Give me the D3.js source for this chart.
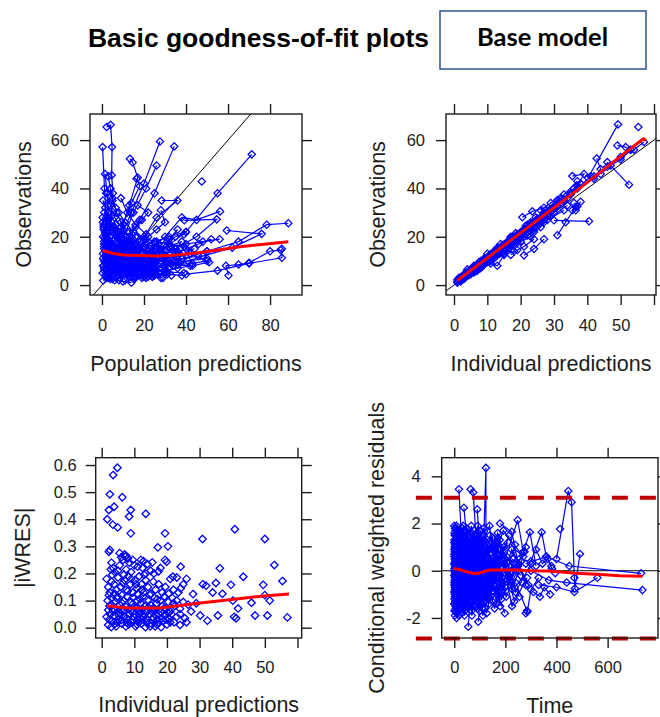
<!DOCTYPE html>
<html><head><meta charset="utf-8">
<script src="https://cdn.jsdelivr.net/npm/d3@7"></script>
<style>body{margin:0;background:#fff}svg{display:block}</style>
</head><body>
<svg id="c" width="660" height="717"></svg>
<script>
// ---------------- DATA ----------------
const titleText = "Basic goodness-of-fit plots";
const badgeText = "Base model";

// Panel 1: Population predictions (x) vs Observations (y), one flat [x,y,...] array per subject
const p1Subjects = [
  [2.2,65.4, 4.1,66.3, 4.8,57.1, 4.6,45.5, 5.2,38, 4,25, 3,14],
  [0.3,57.1, 1.2,40, 2,28, 1,16, 0.5,8],
  [27.6,59.4, 20,42, 14,30, 9,20, 5,12],
  [34.4,57.4, 25,38, 18,27, 12,18, 7,9],
  [13.3,52.3, 14.6,50.7, 17,44.5, 13,33, 9,22, 6,13],
  [26,49.5, 21,40, 15,30, 10,19],
  [71.3,54.1, 55,38, 40,22, 28,14, 18,9],
  [47.5,42.9],
  [1.4,46, 2.5,38, 3,30, 2,22, 1.5,14, 1,7],
  [16.5,44, 18,41, 14,34, 10,25, 7,15],
  [28.4,35, 35.9,35, 26,28, 20,20, 14,14],
  [56.2,30.5, 45,27, 38,28, 30,20, 22,14],
  [39.2,26.8, 54.6,27.2, 45,20, 35,15, 25,10],
  [88.7,25.6, 78.4,25, 65,18, 50,14, 35,10, 25,7],
  [59.4,22.6, 76,21.2, 62,15.5, 48,12, 34,8],
  [85.6,15, 85.6,11.3, 70,9, 55,6, 40,4.5],
  [60.2,4, 59,8, 65,8.5, 70,9.2, 80,14, 85,14.5],
  [0.6,1.9, 3,4, 6,6, 9,8],
  [0.5,13, 2,11, 4,9, 7,8, 11,7, 16,6],
  [1,18, 2.5,15, 5,12, 8,10, 12,9, 18,8, 25,7],
  [0.8,8, 2,7, 4,6, 6,5, 9,4, 13,3.5],
  [1.5,22, 3,19, 6,16, 9,14, 13,12, 18,11],
  [2,26, 3.5,22, 6,19, 10,17, 15,15, 22,13],
  [0.3,5, 1.5,4, 3,3, 5,2.5, 8,2],
  [3,14, 5,12, 8,11, 12,10, 17,9, 24,8, 32,7],
  [1,30, 2.5,27, 4,24, 7,20, 11,17, 16,14],
  [4,20, 6,17, 9,15, 13,13, 19,11, 26,10],
  [0.5,35, 1.5,32, 3,28, 5,24, 8,21, 12,18],
  [2,16, 4,13, 7,11.5, 11,10, 16,8.5, 22,7.5, 30,6],
  [5,10, 8,9, 11,8, 15,7, 20,6, 27,5],
  [1,10, 3,8.5, 6,7.5, 10,6.5, 15,5, 21,4],
  [6,24, 9,21, 13,18, 18,15, 24,13, 31,11],
  [2,38, 4,33, 6,28, 9,24, 13,20],
  [8,30, 11,26, 15,22, 20,19, 26,16, 34,14],
  [3,12, 6,14, 9,16, 12,18, 16,20],
  [10,12, 14,14, 19,16, 25,18, 32,20, 40,22],
  [12,7, 17,8, 23,9, 30,10, 38,11, 46,12],
  [15,5, 20,6, 26,7.5, 33,9, 41,10, 50,11],
  [7,4, 11,5, 16,6, 22,7, 29,8, 37,9],
  [20,10, 24,12, 28,15, 32,19, 36,23],
  [18,18, 22,20, 26,23, 30,26, 28,31],
  [22,14, 27,15, 33,16, 40,17, 48,18, 56,19],
  [25,5, 30,6, 36,7, 43,8, 51,9.5],
  [30,12, 35,13, 40,15, 46,17, 52,19],
  [4,40, 5,35, 7,30, 9,26, 12,22],
  [9,36, 12,30, 16,25, 21,21],
  [13,22, 16,24, 19,27, 22,30, 17,33],
  [0.5,20, 1,17, 2,14, 3,11, 4,8],
  [5,6, 7,5.5, 10,5, 13,4.5, 17,4, 22,3.5, 28,3],
  [14,10, 18,11, 23,12, 29,13, 36,14, 44,15],
  [2,3, 4,2.5, 6,2, 10,1.5, 14,1],
  [8,16, 12,15, 17,14, 23,13, 30,12.5, 38,12],
  [16,3, 20,3.5, 25,4, 31,4.5],
  [3,45, 4,40, 5,36, 6.5,32],
  [11,2, 15,2.5, 19,3, 24,3.5, 29,3],
  [6,11, 9,12, 12,13, 16,12, 21,11],
  [1,6, 2.5,5.5, 4,5, 6,4.5, 8,4],
  [17,20, 21,19, 26,18, 32,17, 39,16],
  [0.4,26, 0.8,23, 1.2,19.5, 1.8,15.5, 2.4,12.5],
  [3.5,9, 5.5,8, 8.5,7, 12.5,6, 18,5, 24,4.5, 33,4],
  [7,18, 10,14.5, 14,12, 19,10, 25,9, 33,8.5, 42,8],
  [2.8,33, 4.5,28.5, 6.5,25, 8,22],
  [19,8, 24,9.5, 29,11, 35,11.5, 42,13, 50,14],
  [9,9, 13,8.5, 18,7.5, 24,6.5, 31,5.5, 39,5],
  [0.5,11, 1.5,9.5, 3,8, 5,7, 8,6, 12,5.5, 17,5],
  [1,15, 2,13, 4,11, 6,10, 9,9.5, 13,9, 18,8.5, 24,8],
  [2,9, 3.5,7.5, 5.5,6.5, 8,6, 11,5.5, 15,5, 20,4.5],
  [3,17, 5,15, 7.5,13.5, 10.5,12, 14,11, 19,10, 25,9.5],
  [4,6, 6,5, 9,4.5, 12,4, 16,3.5, 21,3],
  [0.7,24, 1.5,21, 3,18, 5,16, 7,14, 10,13],
  [6,9, 8.5,8, 11.5,7.5, 15,7, 19,6.5, 24,6, 30,5.5],
  [8,14, 11,13, 14,12.5, 18,12, 23,11.5, 29,11],
  [10,8, 13,7, 16,6.5, 20,5.5, 25,5, 31,4.5, 38,4],
  [12,16, 15,15, 19,14, 24,13.5, 30,14, 37,15],
  [2.5,19, 4,17, 6,15.5, 8.5,14, 11.5,13.5, 15,13],
  [5,22, 7,20, 10,18, 13,16, 17,15, 22,14.5],
  [1.5,12, 3,10.5, 5,9.5, 7.5,9, 10.5,8.5, 14,8],
  [9,5, 12,4.5, 15,4, 19,4, 24,3.5],
  [14,18, 17,17, 21,16.5, 26,16, 32,16, 38,18],
  [3,27, 5,23, 7,21, 9,19, 12,17],
  [16,10, 20,9.5, 25,10, 30,11, 36,12, 42,13],
  [20,7, 25,7.5, 30,8, 36,8.5, 43,9, 50,10],
  [23,16, 27,17, 31,18, 35,20, 39,21],
  [7,12, 9.5,11, 12.5,10.5, 16,10, 20,9],
  [0.3,28, 0.8,25, 1.5,22, 2.5,19.5, 3.5,16.5],
  [11,20, 13,18.5, 16,17, 20,16, 25,15]
];
const p1Smooth = [[0.3,14.3],[5,13.2],[10.2,12.5],[18,12.2],[26,12.0],[34,12.3],[46.7,13.5],[56,14.6],[65.7,15.9],[77,16.9],[88.7,17.9]];

// Panel 2: Individual predictions (x) vs Observations (y)
const p2Subjects = [
  [1,1.5, 2,2.8, 4,4.5, 7,7.6, 11,12, 16,17],
  [1.5,3, 3,4, 5,6.2, 8,8.5, 12,13.5, 18,19.5, 25,27],
  [2,1.5, 4,3.8, 6,6.8, 9,9.5, 13,14.2, 19,20.4],
  [3,4.5, 5,5.5, 8,9.2, 12,12.5, 17,18.8, 23,24.5, 30,32],
  [2.5,3.5, 6,7, 10,11.5, 14,15.5, 20,22, 27,29.5],
  [4,5.5, 7,8.5, 11,12.8, 15,16, 21,23, 28,30.5, 35,38],
  [1,2.2, 3,3, 6,5.8, 9,10.5, 14,14.8, 20,20.5],
  [5,4.5, 9,8.5, 13,12.6, 18,18, 24,25, 31,33],
  [6,7.5, 10,10.2, 15,16.8, 20,21.5, 26,28, 33,35.5],
  [8,10, 12,14, 16,17.5, 22,24, 29,31.5, 36,40],
  [7,6, 11,10.5, 16,15, 22,22, 28,29, 34,36],
  [9,9.5, 13,13, 17,16.5, 23,23.5, 30,31.5],
  [10,13, 14,15.5, 19,21, 25,27.5, 32,34, 38,42],
  [12,11, 15,14, 19,18.5, 24,24, 29,28.5],
  [13,15.5, 17,19.5, 21,22.5, 26,27, 31,32.5],
  [15,13, 18,17, 22,20.5, 27,26, 33,31],
  [3,2.5, 5,5, 8,7, 11,10, 15,14, 19,17.5],
  [4,6.5, 6,8, 9,11, 13,15, 17,20, 22,25],
  [14,17, 18,20, 23,26, 27,30, 32,36],
  [16,16, 20,20, 24,22, 28,27, 34,33],
  [17,12.5, 19,14.5, 21,16, 24,19],
  [11,9, 13,8, 15,12.5, 18,14],
  [20,18, 23,20, 26,24, 30,30],
  [21,12.3, 24,15, 27,19],
  [25,26, 29,30.5, 33,35, 37,40, 41,45],
  [26,31, 29,34, 33,37.5, 37,43],
  [30,26.8, 40.5,26.4],
  [31,20.6, 33.5,26, 36.5,32.3, 35.5,31],
  [35.5,45.1, 39,46, 37,41, 35,37.5],
  [40.2,44.3, 49.2,66.5],
  [42.8,52.4, 44,48, 42,44],
  [46,50.9, 52.5,41.5],
  [49,57.8, 51.5,57.1, 53,56],
  [55.3,65.4],
  [57,59.2, 54,56, 50,53, 46,49, 42,45],
  [20.5,28.1, 23.5,30.5, 27,32],
  [44,46, 47,49.5, 50,52, 53,56],
  [36,34, 37,32.5, 38,34.5, 36.5,31],
  [2,3.2, 3.5,5, 5.5,7.2, 7.5,9.5, 10.5,12.2, 14.5,16.5],
  [6.5,5.8, 8.5,7.8, 10.5,9.8, 13.5,12.8, 16.5,15.5, 21,20.2],
  [18.5,21.5, 21.5,24.5, 24.5,28, 27.5,31, 31,35.2],
  [1,1, 2,2, 3.5,3.8, 5.5,6, 8,8.6, 11,11.8, 15,16.2],
  [2,2.2, 4,5, 6.5,7.5, 9.5,10.8, 13,14.8, 17,18.5, 21,22.8],
  [5,6.3, 7.5,7.2, 10,10.8, 13,14, 16,18, 19,19.8, 23,25.5],
  [8,8.2, 10,11.5, 12.5,13.5, 15.5,16.8, 18.5,20.2, 22,23.2],
  [3,3.6, 4.5,4.2, 7,7, 9,9, 12,12, 14,15, 17,17.2],
  [6,5.2, 9,9.8, 12,11.8, 14,14, 17,17.8, 20,21, 24,26],
  [10,9.5, 13,13.8, 16,16.2, 19,19.2, 23,24.8, 26,27]
];
const p2Smooth = [[1,1.9],[10,11.2],[20,21.6],[30,32],[40,42.5],[50,53.3],[56.8,60.5],[57.6,59.8]];

// Panel 3: Individual predictions (x) vs |iWRES| (y), points only
const p3Points = [
  4.8,0.59, 3.5,0.563, 6.3,0.481, 2.5,0.492, 3.8,0.446, 2.2,0.434, 8.9,0.434, 8.4,0.41, 13.5,0.42, 1.7,0.4,
  3.4,0.38, 4.9,0.37, 8.9,0.348, 19.4,0.348, 30.9,0.327, 40.8,0.363, 50,0.327, 20.3,0.30, 17.2,0.296, 2.5,0.287,
  5.5,0.275, 7,0.27, 7.5,0.265, 52.9,0.231, 24.2,0.225, 36.2,0.219, 43.4,0.188, 55.4,0.172, 39.6,0.158, 49.5,0.158,
  35,0.165, 31,0.16, 32,0.155, 28,0.124, 34,0.13, 37,0.125, 45.9,0.092, 50,0.12, 51.5,0.1, 41.8,0.071,
  40.6,0.04, 41.2,0.035, 47,0.045, 50.8,0.045, 56.9,0.038, 35.6,0.045, 32.4,0.026, 30.2,0.045, 27.4,0.06, 40.2,0.1,
  29,0.09, 26,0.02, 24,0.05, 22,0.09, 25,0.16, 21,0.18, 23,0.185, 26,0.18,
  19.4,0.25, 19.9,0.243, 15.5,0.241, 12.8,0.245, 17.4,0.207, 21.8,0.188, 24.2,0.145,
  2.2,0.28, 3,0.24, 3.5,0.22, 4,0.205, 5,0.21, 6,0.26, 6.5,0.25, 7.2,0.262, 8,0.255, 8.5,0.24,
  9.5,0.25, 10,0.23, 11,0.225, 12,0.25, 12.5,0.22, 13.5,0.2, 14,0.235, 15,0.21, 9,0.205, 7.5,0.215,
  5.5,0.23, 2.8,0.215, 16,0.2, 18,0.22,
  1.5,0.18, 2,0.15, 2.5,0.13, 3,0.17, 3.8,0.16, 4.5,0.14, 5,0.185, 5.8,0.15, 6.2,0.12, 7,0.175,
  7.5,0.14, 8.2,0.19, 8.8,0.16, 9.5,0.13, 10.2,0.175, 10.8,0.145, 11.5,0.19, 12.2,0.16, 12.8,0.13, 13.5,0.175,
  14.2,0.15, 15,0.125, 15.8,0.17, 16.5,0.14, 17.5,0.16, 18.5,0.13, 19.5,0.15, 20.5,0.125, 22,0.14, 23.5,0.13,
  4,0.125, 6.8,0.195, 9,0.18, 11,0.125, 13,0.195, 3.2,0.195,
  1.8,0.1, 2.4,0.08, 3,0.11, 3.6,0.07, 4.2,0.095, 4.8,0.115, 5.4,0.085, 6,0.065, 6.6,0.1, 7.2,0.08,
  7.8,0.115, 8.4,0.07, 9,0.095, 9.6,0.11, 10.2,0.075, 10.8,0.1, 11.4,0.065, 12,0.09, 12.6,0.115, 13.2,0.08,
  13.8,0.06, 14.4,0.1, 15,0.085, 15.6,0.07, 16.2,0.11, 16.8,0.09, 17.4,0.065, 18,0.1, 18.6,0.08, 19.2,0.115,
  19.8,0.07, 20.4,0.095, 21,0.06, 21.6,0.11, 22.4,0.08, 23,0.1, 24,0.07, 25,0.095, 26.5,0.085, 2,0.065, 5,0.06,
  1.5,0.04, 2,0.01, 2.6,0.05, 3.2,0.025, 3.8,0.045, 4.4,0.005, 5,0.03, 5.6,0.055, 6.2,0.015, 6.8,0.04,
  7.4,0.005, 8,0.03, 8.6,0.05, 9.2,0.02, 9.8,0.04, 10.4,0.005, 11,0.03, 11.6,0.05, 12.2,0.015, 12.8,0.04,
  13.4,0.002, 14,0.028, 14.6,0.05, 15.2,0.015, 15.8,0.038, 16.4,0.005, 17,0.03, 17.6,0.05, 18.2,0.002, 18.8,0.025,
  19.4,0.045, 20,0.012, 20.6,0.035, 21.4,0.05, 22.2,0.02, 23,0.04, 24,0.01, 25.5,0.035, 2.9,0.002, 4.8,0.02,
  6.5,0.06, 7.8,0.018, 9.5,0.058, 10.8,0.012, 12,0.055, 13.8,0.018, 15.5,0.058, 16.9,0.012,
  2.3,0.03, 3.5,0.06, 4.1,0.015, 5.3,0.045, 6,0.028, 7,0.065, 7.6,0.035, 8.3,0.012, 8.9,0.062, 9.5,0.03,
  10.1,0.05, 10.7,0.072, 11.3,0.018, 11.9,0.035, 12.5,0.07, 13.1,0.05, 13.7,0.035, 14.3,0.075, 14.9,0.005, 15.5,0.03,
  16.1,0.07, 16.7,0.045, 17.3,0.015, 18,0.06, 18.5,0.035, 19.1,0.072, 19.7,0.03, 20.3,0.055, 21,0.02, 3,0.085,
  6.3,0.09, 9.3,0.085, 11.8,0.105, 14.8,0.12, 17,0.105, 4.5,0.11, 8,0.135, 12.3,0.14, 2.2,0.12, 10.5,0.16, 6.5,0.165
];
const p3Smooth = [[1.7,0.081],[7.8,0.073],[18,0.073],[28.2,0.088],[40.5,0.105],[49.7,0.117],[57.4,0.124]];

// Panel 4: Time (x) vs Conditional weighted residuals (y)
const p4Subjects = [
  [2,0.5, 10,1.2, 25,-0.3, 45,0.8, 70,-0.5, 100,0.2, 140,-0.8, 190,0.4],
  [1,-1.2, 8,0.3, 20,1.5, 38,-0.9, 60,0.6, 90,-1.1, 130,0.9, 175,-0.2, 230,0.5],
  [3,1.8, 12,-0.6, 28,0.9, 50,-1.4, 75,1.1, 105,-0.3, 150,1.4, 200,-0.7],
  [0,-0.2, 6,-1.6, 18,0.2, 35,1.9, 55,-0.8, 85,0.4, 120,-1.3, 165,0.7, 220,-0.4, 280,1.0],
  [5,0.9, 15,-1.0, 32,0.4, 52,1.6, 80,-0.2, 110,-1.6, 155,0.3, 210,1.2],
  [2,-0.7, 9,1.9, 22,-1.3, 42,0.1, 66,1.3, 95,-0.6, 135,0.5, 185,-1.2, 250,0.2],
  [4,1.3, 14,0.5, 30,-1.8, 48,1.0, 72,0.0, 102,1.7, 145,-0.9, 195,0.9],
  [1,0.1, 7,-0.4, 16,1.1, 33,-0.2, 58,-1.1, 88,1.2, 125,-0.4, 170,1.6, 240,-0.9, 300,0.3],
  [3,-1.9, 11,0.7, 26,1.6, 46,-0.5, 68,-1.7, 98,0.8, 138,1.9, 180,-1.5],
  [0,0.7, 5,-0.9, 13,0.0, 29,-1.0, 49,1.8, 77,0.3, 112,-1.9, 160,-0.1, 215,1.5],
  [6,-0.1, 17,1.7, 36,-1.5, 57,0.3, 82,1.5, 115,0.1, 158,-1.6, 205,0.6, 265,-0.5],
  [2,1.0, 10,-1.4, 24,0.6, 40,-0.1, 62,-1.3, 92,1.9, 128,-0.6, 172,0.2],
  [4,-0.5, 12,0.9, 27,-0.7, 47,1.3, 69,-1.9, 97,0.5, 142,1.1, 190,-0.8, 245,0.7],
  [1,1.6, 8,0.2, 19,-0.9, 37,1.4, 59,-0.3, 86,-1.5, 118,1.3, 162,0.0],
  [3,-1.1, 10,0.6, 21,1.3, 41,-1.7, 64,0.9, 94,-0.1, 132,-1.2, 178,1.3, 235,-1.3],
  [0,0.3, 7,1.5, 15,-0.2, 31,0.5, 53,1.2, 79,-1.4, 108,0.6, 148,-0.5, 198,-1.8],
  [5,-1.5, 13,-0.3, 28,1.0, 44,-1.2, 65,0.4, 96,1.6, 136,-1.1, 182,0.9, 260,-0.2],
  [2,0.0, 9,-2.0, 23,-0.5, 43,0.7, 71,-0.8, 103,0.9, 144,0.2, 192,1.7, 270,0.6],
  [6,1.1, 16,-1.2, 34,0.3, 54,-0.4, 78,1.7, 106,-0.9, 152,-0.3, 208,0.1],
  [1,-0.6, 11,1.4, 25,0.1, 39,-1.6, 61,1.4, 91,-0.8, 122,0.3, 168,-1.0, 225,0.9, 290,-0.6],
  [3,0.4, 14,-0.8, 32,1.8, 51,-1.0, 74,0.8, 100,-0.4, 140,1.5, 187,-0.3],
  [4,-0.3, 12,1.2, 26,-1.1, 45,0.2, 67,1.9, 93,0.0, 127,-1.8, 174,0.6, 228,-0.8, 275,0.8],
  [0,1.2, 6,0.8, 17,-1.7, 36,0.9, 56,-0.6, 84,0.7, 116,1.8, 156,-0.6],
  [2,-1.4, 9,0.4, 20,-0.1, 38,1.2, 63,-1.2, 89,0.1, 124,1.0, 166,-1.4, 218,-0.1],
  [1,0.9, 4,-0.4, 10,-1.2, 19,0.6, 31,-0.3, 47,-1.1, 68,0.7, 95,-0.2, 130,0.6, 180,-0.4],
  [0,-0.9, 3,0.6, 8,1.0, 16,-0.6, 27,0.3, 40,1.1, 60,-0.2, 87,-0.9, 117,0.4, 160,1.1, 212,-0.2],
  [2,1.5, 6,-0.2, 12,-1.5, 22,0.8, 35,-0.6, 53,0.5, 76,1.3, 104,-1.2, 139,-0.2, 185,0.5],
  [1,-1.7, 5,-0.6, 11,1.7, 21,0.4, 34,-1.3, 52,-0.1, 73,-1.0, 101,1.3, 137,0.7, 176,-1.1, 232,0.3],
  [3,0.2, 7,1.8, 14,-1.4, 24,-0.2, 37,0.6, 55,1.5, 81,-1.2, 111,0.8, 149,-1.3, 196,0.3, 255,-1.1],
  [0,1.9, 4,1.0, 9,-0.7, 18,-1.9, 29,1.2, 44,0.4, 64,-0.9, 90,1.0, 121,-1.6, 163,1.2, 222,-0.5],
  [2,-0.4, 6,0.5, 13,1.3, 23,-1.6, 36,0.0, 54,-1.6, 78,0.6, 107,1.1, 147,-0.4, 194,1.0],
  [1,0.6, 5,1.7, 11,-0.1, 20,-1.1, 33,1.5, 49,-0.4, 70,1.6, 99,-1.7, 134,0.0, 183,-0.9, 238,1.1],
  [4,-1.3, 8,-0.9, 15,0.9, 26,0.3, 41,-0.8, 59,1.1, 83,-0.5, 113,1.5, 153,0.9, 203,-1.1, 262,0.4],
  [3,1.1, 9,0.0, 17,0.8, 30,-0.5, 46,1.7, 67,-0.4, 94,0.3, 129,-1.0, 171,1.4, 226,-1.5, 285,-0.3],
  [1,0.3, 3,-0.8, 6,0.4, 10,-0.5, 15,0.7, 22,-0.9, 30,0.2, 42,-0.4, 58,0.5, 80,-0.7, 108,0.3, 145,-0.5],
  [0,-0.5, 2,0.9, 5,-1.1, 9,0.2, 14,-0.3, 20,1.0, 28,-0.8, 39,0.6, 53,-0.2, 72,0.9, 97,-1.0, 131,0.2],
  [2,-1.0, 4,0.1, 8,-0.6, 12,0.5, 18,-1.2, 25,0.4, 34,-0.5, 47,0.9, 63,-0.7, 85,0.1, 114,-1.2, 150,0.4],
  [1,1.3, 4,-1.3, 7,0.7, 11,-0.2, 16,1.4, 23,-0.4, 32,-1.4, 44,0.3, 60,1.0, 81,-0.6, 109,-0.1, 146,1.2],
  [3,-0.6, 5,0.3, 9,1.1, 13,-0.9, 19,0.1, 27,1.2, 37,-1.2, 50,-0.3, 66,0.4, 89,-1.3, 119,0.7, 157,-0.9],
  [0,0.0, 3,-0.3, 7,-1.3, 12,0.8, 17,-0.5, 24,-1.5, 33,0.7, 45,-0.7, 61,-1.5, 83,0.5, 112,-0.5, 151,0.1],
  [2,0.8, 5,-0.5, 9,-1.8, 14,0.3, 20,-0.7, 29,0.0, 40,-1.9, 55,0.2, 75,-0.3, 101,-0.8, 137,-1.4],
  [1,-0.2, 4,1.2, 8,-0.1, 13,-1.0, 21,0.5, 30,1.3, 42,-0.9, 57,-0.1, 77,-1.5, 104,0.4, 141,-0.2, 188,-0.5],
  [0,-1.4, 3,-0.1, 6,-0.8, 11,0.4, 17,-1.4, 26,-0.6, 35,0.8, 49,-1.5, 67,-0.1, 90,-1.6, 123,-0.9, 164,-0.3],
  [4,0.5, 7,-0.3, 12,-0.9, 19,1.1, 28,-1.2, 38,-0.3, 52,0.9, 71,-1.2, 96,-0.5, 128,0.8, 169,-0.7, 224,0.0],
  [110,-0.6, 124,4.36, 124,0.5, 135,-1.0],
  [18.4,3.45, 30,1.0, 50,-0.5],
  [64,3.45, 74,3.32, 85,1.5, 100,0.2],
  [38,2.67, 50,1.2, 70,0.0],
  [90,2.6, 100,1.0, 115,-0.4],
  [400,0.5, 446,3.38, 459,2.9, 470,-0.3, 472,-0.75, 492,0.71],
  [414,1.77],
  [200,0.5, 248,2.15, 270,0.8, 296,1.63, 320,0.2],
  [300,0.4, 342,1.63, 360,0.6, 380,0.2],
  [179,2.0, 225,1.65, 250,0.3, 280,-0.6],
  [240,-0.5, 286,-1.74, 300,-0.8, 330,-0.3],
  [55,-2.37, 60,-1.5, 80,-0.4],
  [94,-2.16, 100,-1.4, 115,-0.7],
  [7,-1.71, 15,-0.5],
  [300,0.0, 370,-0.4, 440,-0.5, 736,-0.82],
  [280,0.3, 360,0.6, 450,0.2, 731,-0.11],
  [330,-0.6, 400,-0.7, 470,-0.9, 560,-0.3],
  [320,0.9, 345,0.3, 365,0.5, 382,0.1, 395,-0.1],
  [310,-0.9, 335,-1.1, 352,-0.7, 375,-1.0],
  [280,-1.8, 285,-1.7]
];
const p4Smooth = [[-4,0.1],[20,0.05],[50,-0.05],[74,-0.12],[100,-0.1],[120,-0.02],[140,0.03],[244,0.03],[300,0.0],[362,-0.01],[420,-0.05],[472,-0.11],[557,-0.15],[648,-0.21],[736,-0.23]];
const p4RefLevels = [3.09, -2.87];
const p4RefSpan = [-150, 830];

// tick values
const p1XTicks = [0,20,40,60,80], p1YTicks = [0,20,40,60];
const p2XTicks = [0,10,20,30,40,50,60], p2YTicks = [0,20,40,60];
const p3XTicks = [0,10,20,30,40,50,60], p3YTicks = [0,0.1,0.2,0.3,0.4,0.5,0.6];
const p4XTicks = [0,200,400,600], p4YTicks = [-2,0,2,4];

// ---------------- DRAW ----------------
const svg = d3.select("#c");
const FONT = "'Liberation Sans', Arial, sans-serif";
const INK = "#1c1c1c";
const BLUE = "#0000ff";
const pairs = a => { const r=[]; for(let i=0;i<a.length;i+=2) r.push([a[i],a[i+1]]); return r; };

svg.append("text").attr("x",88).attr("y",47).attr("font-family",FONT).attr("font-weight","bold")
  .attr("font-size",25).attr("fill","#000").attr("textLength",341).attr("lengthAdjust","spacingAndGlyphs").text(titleText);
svg.append("rect").attr("x",440).attr("y",11).attr("width",206).attr("height",58)
  .attr("fill","#fff").attr("stroke","#2f528f").attr("stroke-width",1.5);
svg.append("text").attr("x",542.5).attr("y",46).attr("text-anchor","middle").attr("font-family","Lato, 'Open Sans', sans-serif")
  .attr("font-weight","bold").attr("font-size",25.5).attr("fill","#000").text(badgeText);

function panel(o){
  const g = svg.append("g");
  const x = d3.scaleLinear().domain(o.xDomain).range([o.left,o.right]);
  const y = d3.scaleLinear().domain(o.yDomain).range([o.bottom,o.top]);
  const cid = "clip"+o.id;
  svg.append("clipPath").attr("id",cid).append("rect")
    .attr("x",o.left).attr("y",o.top).attr("width",o.right-o.left).attr("height",o.bottom-o.top);
  const plot = g.append("g").attr("clip-path",`url(#${cid})`);
  if (o.identity){
    const lo = Math.min(o.xDomain[0],o.yDomain[0]), hi = Math.max(o.xDomain[1],o.yDomain[1]);
    plot.append("line").attr("x1",x(lo)).attr("y1",y(lo)).attr("x2",x(hi)).attr("y2",y(hi))
      .attr("stroke","#000").attr("stroke-width",1);
  }
  if (o.hline!=null){
    plot.append("line").attr("x1",o.left).attr("x2",o.right).attr("y1",y(o.hline)).attr("y2",y(o.hline))
      .attr("stroke","#000").attr("stroke-width",1);
  }
  const line = d3.line().x(d=>x(d[0])).y(d=>y(d[1]));
  const sym = d3.symbol().type(d3.symbolDiamond2).size(o.symSize||32);
  (o.subjects||[]).forEach(s=>{
    const pts = pairs(s);
    if (pts.length>1) plot.append("path").attr("d",line(pts)).attr("fill","none").attr("stroke",BLUE).attr("stroke-width",1.2);
    plot.selectAll(null).data(pts).join("path").attr("d",sym)
      .attr("transform",d=>`translate(${x(d[0])},${y(d[1])})`)
      .attr("fill","none").attr("stroke",BLUE).attr("stroke-width",1.25);
  });
  if (o.points){
    plot.selectAll(null).data(pairs(o.points)).join("path").attr("d",sym)
      .attr("transform",d=>`translate(${x(d[0])},${y(d[1])})`)
      .attr("fill","none").attr("stroke",BLUE).attr("stroke-width",1.3);
  }
  plot.append("path").attr("d",line(o.smooth)).attr("fill","none").attr("stroke","#ff0000").attr("stroke-width",3);
  if (o.refLevels){
    o.refLevels.forEach(v=>{
      g.append("line").attr("x1",x(o.refSpan[0])).attr("x2",x(o.refSpan[1])).attr("y1",y(v)).attr("y2",y(v))
        .attr("stroke","#c00000").attr("stroke-width",4).attr("stroke-dasharray","16,12");
    });
  }
  g.append("rect").attr("x",o.left).attr("y",o.top).attr("width",o.right-o.left).attr("height",o.bottom-o.top)
    .attr("fill","none").attr("stroke",INK).attr("stroke-width",1.4);
  const style = sel => {
    sel.select(".domain").remove();
    sel.selectAll(".tick line").attr("stroke",INK).attr("stroke-width",1.4);
    sel.selectAll(".tick text").attr("fill",INK).attr("font-family",FONT).attr("font-size",16.5);
  };
  g.append("g").attr("transform",`translate(0,${o.bottom})`)
    .call(d3.axisBottom(x).tickValues(o.xTicks).tickSize(10).tickPadding(o.xPad).tickFormat(o.xFmt)).call(style);
  g.append("g").attr("transform",`translate(0,${o.top})`)
    .call(d3.axisTop(x).tickValues(o.xTicks).tickSize(10).tickFormat(()=>"")).call(style);
  g.append("g").attr("transform",`translate(${o.left},0)`)
    .call(d3.axisLeft(y).tickValues(o.yTicks).tickSize(10).tickPadding(o.yPad).tickFormat(o.yFmt)).call(style);
  g.append("g").attr("transform",`translate(${o.right},0)`)
    .call(d3.axisRight(y).tickValues(o.yTicks).tickSize(10).tickFormat(()=>"")).call(style);
  g.append("text").attr("x",(o.left+o.right)/2).attr("y",o.xTitleY).attr("text-anchor","middle")
    .attr("font-family",FONT).attr("font-size",21.5).attr("fill",INK).text(o.xTitle);
  g.append("text").attr("transform",`translate(${o.yTitleX},${(o.top+o.bottom)/2}) rotate(-90)`).attr("text-anchor","middle")
    .attr("font-family",FONT).attr("font-size",21.5).attr("fill",INK).text(o.yTitle);
}

panel({id:1,left:90,right:302,top:114,bottom:295,xDomain:[-5.7,95.2],yDomain:[-4.1,70.8],
  xTicks:p1XTicks,yTicks:p1YTicks,xFmt:d=>String(d),yFmt:d=>String(d),xPad:14,yPad:11,
  identity:true,subjects:p1Subjects,smooth:p1Smooth,symSize:34,
  xTitle:"Population predictions",yTitle:"Observations",xTitleY:371,yTitleX:31});
panel({id:2,left:446,right:656,top:114,bottom:295,xDomain:[-2.4,60.6],yDomain:[-4.1,70.8],
  xTicks:p2XTicks,yTicks:p2YTicks,xFmt:d=>d===60?"":String(d),yFmt:d=>String(d),xPad:14,yPad:11,
  identity:true,subjects:p2Subjects,smooth:p2Smooth,symSize:34,
  xTitle:"Individual predictions",yTitle:"Observations",xTitleY:371,yTitleX:385});
panel({id:3,left:95.7,right:301.7,top:457.7,bottom:638,xDomain:[-1.84,61.3],yDomain:[-0.038,0.627],
  xTicks:p3XTicks,yTicks:p3YTicks,xFmt:d=>d===60?"":String(d),yFmt:d3.format(".1f"),xPad:13,yPad:9,
  points:p3Points,smooth:p3Smooth,symSize:36,
  xTitle:"Individual predictions",yTitle:"|iWRES|",xTitleY:712,yTitleX:30});
panel({id:4,left:441.7,right:658,top:457.7,bottom:638,xDomain:[-49,797],yDomain:[-2.85,4.79],
  xTicks:p4XTicks,yTicks:p4YTicks,xFmt:d=>String(d),yFmt:d=>String(d),xPad:13,yPad:11,
  hline:0,subjects:p4Subjects,smooth:p4Smooth,refLevels:p4RefLevels,refSpan:p4RefSpan,symSize:34,
  xTitle:"Time",yTitle:"Conditional weighted residuals",xTitleY:713,yTitleX:384});
</script>
</body></html>
